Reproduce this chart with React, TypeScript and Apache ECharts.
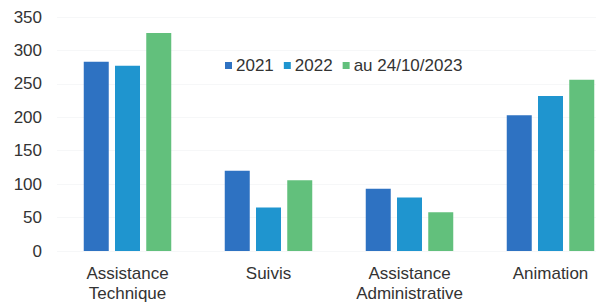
import React, { useEffect, useRef } from "react";
import * as echarts from "echarts";

const categories = ["Assistance\nTechnique", "Suivis", "Assistance\nAdministrative", "Animation"];
const seriesNames = ["2021", "2022", "au 24/10/2023"];
const values2021 = [283, 120, 93, 203];
const values2022 = [277, 65, 80, 232];
const values2023 = [326, 106, 58, 256];
const colors = ["#2e72c2", "#1f95cf", "#62c07c"];

export default function App() {
  const ref = useRef<HTMLDivElement>(null);
  useEffect(() => {
    const chart = echarts.init(ref.current!, null, { renderer: "svg" });
    const font = "Liberation Sans, Arial, sans-serif";
    const data = [values2021, values2022, values2023];
    chart.setOption({
      animation: false,
      textStyle: { fontFamily: font },
      grid: { left: 57, right: 0, top: 17, bottom: 54, containLabel: false },
      legend: {
        top: 52,
        left: 220,
        itemWidth: 7,
        itemHeight: 7,
        itemGap: 10,
        icon: "rect",
        textStyle: { fontSize: 17, color: "#333", fontFamily: font, padding: [0, 0, 0, -1] },
        data: seriesNames,
      },
      xAxis: {
        type: "category",
        data: categories,
        axisLine: { show: false },
        axisTick: { show: false },
        axisLabel: { interval: 0, fontSize: 17, color: "#333", lineHeight: 20, margin: 12, fontFamily: font },
      },
      yAxis: {
        type: "value",
        min: 0,
        max: 350,
        interval: 50,
        axisLine: { show: false },
        axisTick: { show: false },
        axisLabel: { fontSize: 17, color: "#333", margin: 15, fontFamily: font },
        splitLine: { show: true, lineStyle: { color: "#f6f7f8" } },
      },
      series: seriesNames.map((name, i) => ({
        name,
        type: "bar",
        data: data[i],
        barWidth: 25,
        barGap: "25%",
        itemStyle: { color: colors[i] },
      })),
    });
    return () => chart.dispose();
  }, []);
  return (
    <div style={{ width: 596, height: 305, position: "absolute", left: 0, top: 0, overflow: "hidden", background: "#fff" }}>
      <div ref={ref} style={{ width: 621, height: 305 }} />
    </div>
  );
}
